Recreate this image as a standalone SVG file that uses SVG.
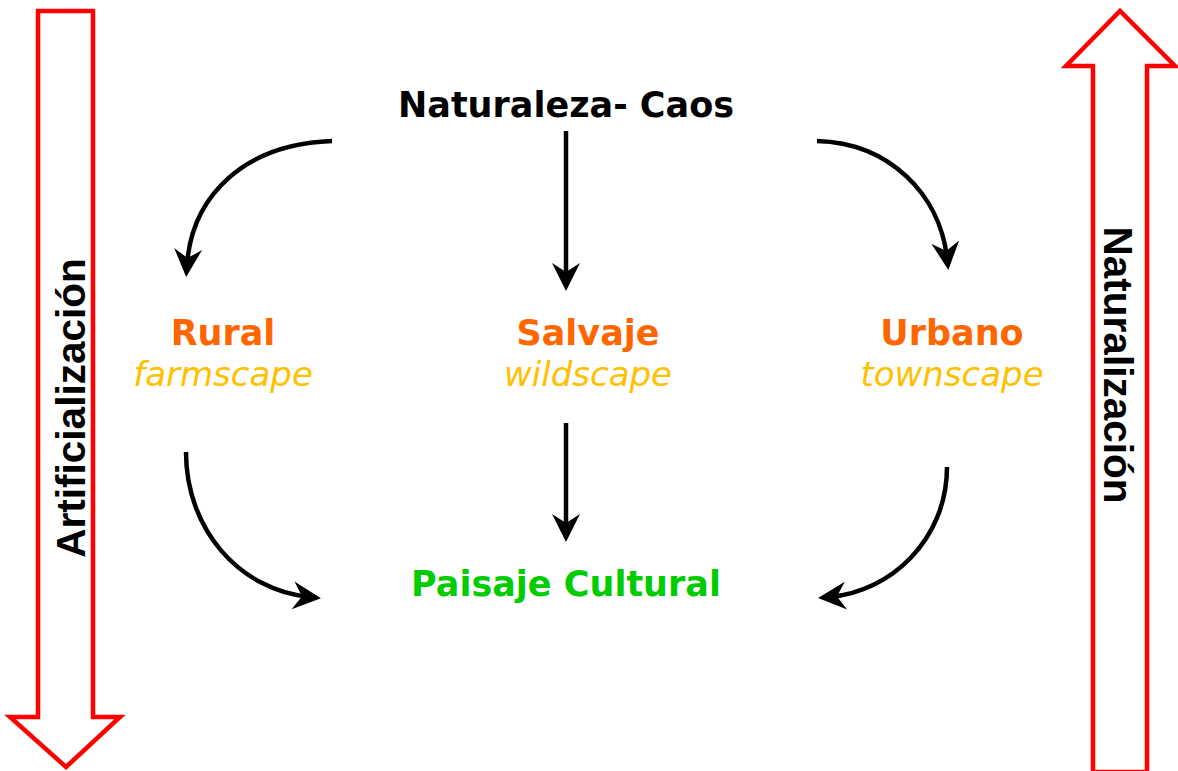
<svg xmlns="http://www.w3.org/2000/svg" width="1178" height="771" viewBox="0 0 1178 771">
<style>
.big{fill:none;stroke:#ff0000;stroke-width:4.5;stroke-linejoin:miter}
.side{font-family:"Liberation Sans",Arial,sans-serif;font-weight:bold;font-size:40.5px;fill:#000;text-anchor:middle}
.t{font-family:"DejaVu Sans",Verdana,sans-serif;font-weight:bold;font-size:35px;text-anchor:middle}
.s{font-family:"DejaVu Sans",Verdana,sans-serif;font-style:italic;font-size:34px;fill:#ffc000;text-anchor:middle}
.o{fill:#ff6600}
.c{fill:none;stroke:#000;stroke-width:4.5}
</style>
<defs>
<marker id="ah" markerUnits="userSpaceOnUse" markerWidth="40" markerHeight="40" viewBox="-30 -20 40 40" refX="-12" refY="0" orient="auto">
<path d="M0,0 L-28,-14 L-19,0 L-28,14 Z" fill="#000"/>
</marker>
</defs>
<rect width="1178" height="771" fill="#fff"/>
<g id="artificializacion">
<polygon class="big" points="38,11 93,11 93,717 120,717 66,767 10,717 38,717"/>
<text class="side" transform="translate(85,408) rotate(-90)">Artificialización</text>
</g>
<g id="naturalizacion">
<polygon class="big" points="1093,772 1093,66 1066,66 1120,11 1175,66 1147,66 1147,772"/>
<text class="side" transform="translate(1104,365) rotate(90)">Naturalización</text>
</g>
<g id="naturaleza">
<text class="t" x="566" y="117">Naturaleza- Caos</text>
</g>
<g id="rural">
<text class="t o" x="223" y="345">Rural</text>
<text class="s" x="223" y="386">farmscape</text>
</g>
<g id="salvaje">
<text class="t o" x="588" y="345">Salvaje</text>
<text class="s" x="588" y="386">wildscape</text>
</g>
<g id="urbano">
<text class="t o" x="952" y="345">Urbano</text>
<text class="s" x="952" y="386">townscape</text>
</g>
<g id="paisaje">
<text class="t" x="566" y="596" fill="#00cc00">Paisaje Cultural</text>
</g>
<g id="connectors">
<path class="c" marker-end="url(#ah)" d="M332,141 C245,144 192,195 187,265"/>
<path class="c" marker-end="url(#ah)" d="M566,131 L566,279"/>
<path class="c" marker-end="url(#ah)" d="M817,141 C890,143 940,195 947,258"/>
<path class="c" marker-end="url(#ah)" d="M566,423 L566,530"/>
<path class="c" marker-end="url(#ah)" d="M186,452 C186,530 240,590 309,597"/>
<path class="c" marker-end="url(#ah)" d="M947,467 C947,540 890,592 830,597"/>
</g>
</svg>
